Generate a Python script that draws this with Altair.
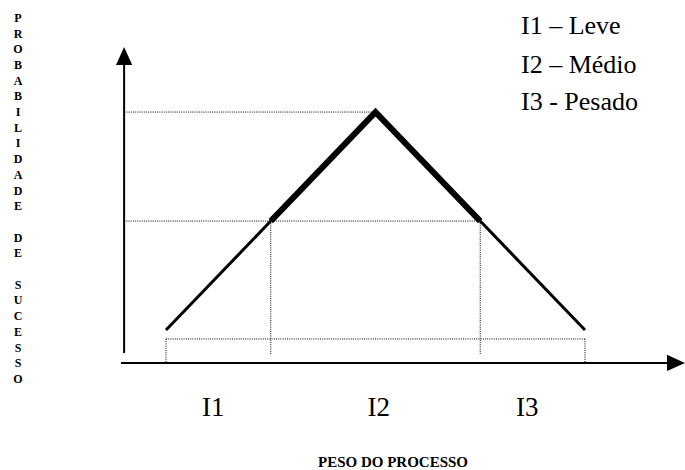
import altair as alt
import pandas as pd

# Triangular curve: process weight (x) against probability of success (y)
peso = [0, 1, 2, 3, 4]
prob = [0.0, 0.5, 1.0, 0.5, 0.0]

classes = ["I1", "I2", "I3"]
class_pos = [0.45, 2.03, 3.45]

legenda = ["I1 – Leve", "I2 – Médio", "I3 - Pesado"]
y_title = "PROBABILIDADE DE SUCESSO"
x_title = "PESO DO PROCESSO"

# Frame of the drawing, in data units
X_DOMAIN = [-1.585, 4.955]
Y_DOMAIN = [-0.642, 1.514]
PX_PER_Y = 470 / (Y_DOMAIN[1] - Y_DOMAIN[0])
AXIS_X = -0.40      # where the vertical axis stands
AXIS_Y = -0.151     # where the horizontal axis lies
BASE = -0.041       # dotted base line under the curve

xs = alt.Scale(domain=X_DOMAIN)
ys = alt.Scale(domain=Y_DOMAIN)
X = lambda f: alt.X(f, type="quantitative", scale=xs, axis=None)
Y = lambda f: alt.Y(f, type="quantitative", scale=ys, axis=None)

curve = pd.DataFrame({"x": peso, "y": prob})

# thin outer legs
legs = pd.DataFrame({
    "x": [peso[0], peso[3]], "y": [prob[0], prob[3]],
    "x2": [peso[1], peso[4]], "y2": [prob[1], prob[4]],
})
thin = alt.Chart(legs).mark_rule(color="black", strokeWidth=3).encode(
    x=X("x"), y=Y("y"), x2="x2", y2="y2")

# thick middle section
thick = alt.Chart(curve.iloc[1:4]).mark_line(
    color="black", strokeWidth=6, strokeJoin="miter").encode(
    x=X("x"), y=Y("y"), order="x:Q")

# dotted guide lines
guides = pd.DataFrame([
    {"x": AXIS_X, "x2": peso[2], "y": prob[2], "y2": prob[2]},
    {"x": AXIS_X, "x2": peso[3], "y": prob[1], "y2": prob[1]},
    {"x": peso[0], "x2": peso[4], "y": BASE, "y2": BASE},
    {"x": peso[0], "x2": peso[0], "y": BASE, "y2": AXIS_Y},
    {"x": peso[4], "x2": peso[4], "y": BASE, "y2": AXIS_Y},
    {"x": peso[1], "x2": peso[1], "y": prob[1], "y2": -0.11},
    {"x": peso[3], "x2": peso[3], "y": prob[3], "y2": -0.11},
])
dotted = alt.Chart(guides).mark_rule(
    color="black", strokeWidth=1, strokeDash=[1, 1.2]).encode(
    x=X("x"), y=Y("y"), x2="x2", y2="y2")

# axes with arrowheads
axes_df = pd.DataFrame([
    {"x": AXIS_X, "x2": AXIS_X, "y": -0.105, "y2": 1.216},
    {"x": -0.43, "x2": 4.84, "y": AXIS_Y, "y2": AXIS_Y},
])
axes = alt.Chart(axes_df).mark_rule(color="black", strokeWidth=2).encode(
    x=X("x"), y=Y("y"), x2="x2", y2="y2")

up = alt.Chart(pd.DataFrame({"x": [AXIS_X], "y": [1.257]})).mark_point(
    shape="M0,-1L0.9,1L-0.9,1Z", size=324, filled=True, color="black",
    opacity=1, strokeWidth=0).encode(x=X("x"), y=Y("y"))
right = alt.Chart(pd.DataFrame({"x": [4.869], "y": [AXIS_Y]})).mark_point(
    shape="M1,0L-1,0.9L-1,-0.9Z", size=324, filled=True, color="black",
    opacity=1, strokeWidth=0).encode(x=X("x"), y=Y("y"))

# class labels under the axis
cls = alt.Chart(pd.DataFrame({"x": class_pos, "y": [-0.358] * 3, "t": classes})
                ).mark_text(font="Liberation Serif", fontSize=27, color="black",
                            baseline="middle").encode(
    x=X("x"), y=Y("y"), text="t:N")

# legend text, top right
leg = alt.Chart(pd.DataFrame({"x": [3.389] * 3, "y": [1.394, 1.216, 1.046],
                              "t": legenda})).mark_text(
    font="Liberation Serif", fontSize=26, color="black", align="left",
    baseline="middle").encode(x=X("x"), y=Y("y"), text="t:N")

# horizontal axis title
xt = alt.Chart(pd.DataFrame({"x": [2.167], "y": [-0.606], "t": [x_title]})).mark_text(
    font="Liberation Serif", fontSize=15, fontWeight="bold", color="black",
    baseline="middle").encode(x=X("x"), y=Y("y"), text="t:N")

# vertical axis title: one letter per row, a blank row between words
TITLE_TOP = 1.432
STEP = 15.7 / PX_PER_Y
ylet = pd.DataFrame({
    "x": [-1.413] * len(y_title),
    "y": [TITLE_TOP - i * STEP for i in range(len(y_title))],
    "t": list(y_title),
})
yt = alt.Chart(ylet).mark_text(
    font="Liberation Serif", fontSize=12, fontWeight="bold", color="black",
    baseline="middle").encode(x=X("x"), y=Y("y"), text="t:N")

chart = alt.layer(dotted, axes, up, right, thin, thick, cls, leg, xt, yt).properties(
    width=685, height=470, padding=0,
    autosize=alt.AutoSizeParams(type="none"),
).configure_view(stroke=None)

chart.save("out.html", embed_options={"renderer": "svg", "actions": False})
